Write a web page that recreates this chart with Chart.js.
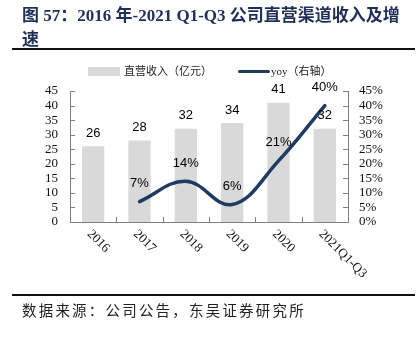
<!DOCTYPE html>
<html lang="zh">
<head>
<meta charset="UTF-8">
<title>直营渠道收入及增速</title>
<script src="https://cdn.jsdelivr.net/npm/chart.js"></script>
<style>
    body { margin: 0; width: 419px; height: 337px; position: relative; overflow: hidden; background: #fff; }
    #chart { position: absolute; left: 0; top: 0; }
    .title { position: absolute; left: 22px; top: 4px; font-family: "Liberation Serif", "Noto Sans CJK SC", serif;
             font-size: 17px; font-weight: bold; color: #1f2f57; line-height: 24px; white-space: nowrap; }
    .rule { position: absolute; left: 12px; width: 403px; height: 2px; background: #111; }
    .legend { position: absolute; top: 63px; font-size: 11px; color: #222; font-family: "Liberation Serif", "Noto Sans CJK SC", serif; line-height: 16px; }
    .box { position: absolute; left: 88px; top: 67px; width: 32px; height: 9px; background: #d9d9d9; }
    .ln { position: absolute; left: 238px; top: 70px; width: 32px; height: 3px; background: #1f3b61; border-radius: 2px; }
    .source { position: absolute; left: 22px; top: 299px; font-family: "Noto Sans CJK SC", sans-serif; font-size: 14.5px;
              color: #222; letter-spacing: 2.2px; white-space: nowrap; }
</style>
</head>
<body>
<canvas id="chart" width="419" height="337"></canvas>
<div class="title">图 57：2016 年-2021 Q1-Q3 公司直营渠道收入及增<br>速</div>
<div class="rule" style="top:48px"></div>
<div class="box"></div>
<div class="legend" style="left:124px">直营收入（亿元）</div>
<div class="ln"></div>
<div class="legend" style="left:271px">yoy（右轴）</div>
<div class="rule" style="top:294px"></div>
<div class="source">数据来源：公司公告，东吴证券研究所</div>
<script>
const categories = ['2016', '2017', '2018', '2019', '2020', '2021Q1-Q3'];
const revenue = [26, 28, 32, 34, 41, 32];          // 直营收入（亿元）
const yoy = [null, 7, 14, 6, 21, 40];              // yoy %（右轴）
const leftTicks = [0, 5, 10, 15, 20, 25, 30, 35, 40, 45];
const rightTicks = [0, 5, 10, 15, 20, 25, 30, 35, 40, 45];

const axisColor = '#7f7f7f';

// value labels, x labels turned clockwise, and tick marks that point inward
const extras = {
    id: 'extras',
    afterDatasetsDraw(chart) {
        const ctx = chart.ctx;
        const area = chart.chartArea;
        const x = chart.scales.x;
        const y = chart.scales.y;
        const y1 = chart.scales.y1;
        ctx.save();

        ctx.strokeStyle = axisColor;
        ctx.lineWidth = 1;
        ctx.beginPath();
        for (let i = 1; i < categories.length; i++) {
            let px = Math.round((x.getPixelForValue(i - 1) + x.getPixelForValue(i)) / 2) + 0.5;
            ctx.moveTo(px, area.bottom);
            ctx.lineTo(px, area.bottom - 5);
        }
        leftTicks.forEach(v => {
            let py = Math.round(y.getPixelForValue(v)) + 0.5;
            ctx.moveTo(area.left, py);
            ctx.lineTo(area.left + 5, py);
        });
        rightTicks.forEach(v => {
            let py = Math.round(y1.getPixelForValue(v)) + 0.5;
            ctx.moveTo(area.right, py);
            ctx.lineTo(area.right - 5, py);
        });
        ctx.stroke();

        ctx.fillStyle = '#000';
        ctx.font = '13px "Liberation Sans", Arial, sans-serif';
        ctx.textAlign = 'center';
        ctx.textBaseline = 'middle';
        let bars = chart.getDatasetMeta(1).data;
        bars.forEach((b, i) => ctx.fillText(revenue[i], b.x, b.y - 13));
        let pts = chart.getDatasetMeta(0).data;
        pts.forEach((p, i) => {
            if (yoy[i] === null) return;
            ctx.fillText(yoy[i] + '%', p.x, p.y - 18);
        });

        ctx.font = '13px "Liberation Serif", "Times New Roman", serif';
        ctx.textAlign = 'left';
        ctx.fillStyle = '#111';
        categories.forEach((c, i) => {
            ctx.save();
            ctx.translate(x.getPixelForValue(i) - 4, area.bottom + 10);
            ctx.rotate(Math.PI / 4);
            ctx.fillText(c, 0, 0);
            ctx.restore();
        });
        ctx.restore();
    }
};

new Chart(document.getElementById('chart'), {
    data: {
        labels: categories,
        datasets: [{
            type: 'line',
            label: 'yoy（右轴）',
            data: yoy,
            yAxisID: 'y1',
            borderColor: '#1f3b61',
            borderWidth: 3.5,
            tension: 0.4,
            pointRadius: 0,
            borderCapStyle: 'round',
            order: 0
        }, {
            type: 'bar',
            label: '直营收入（亿元）',
            data: revenue,
            yAxisID: 'y',
            backgroundColor: '#d9d9d9',
            categoryPercentage: 1,
            barPercentage: 0.48,
            order: 1
        }]
    },
    options: {
        responsive: false,
        animation: false,
        layout: { padding: { top: 91, bottom: 115, left: 0, right: 0 } },
        plugins: { legend: { display: false }, tooltip: { enabled: false } },
        scales: {
            x: {
                ticks: { display: false },
                grid: { display: false },
                border: { color: axisColor },
                afterFit(s) { s.height = 0; }
            },
            y: {
                position: 'left',
                min: 0, max: 45,
                afterBuildTicks(s) { s.ticks = leftTicks.map(v => ({ value: v })); },
                ticks: { autoSkip: false, padding: 12, color: '#111', font: { family: '"Liberation Serif", serif', size: 13 } },
                grid: { display: false, drawTicks: false },
                border: { color: axisColor },
                afterFit(s) { s.width = 70; }
            },
            y1: {
                position: 'right',
                min: 0, max: 45,
                afterBuildTicks(s) { s.ticks = rightTicks.map(v => ({ value: v })); },
                ticks: { autoSkip: false, padding: 11, color: '#111', font: { family: '"Liberation Serif", serif', size: 13 },
                         callback: v => v + '%' },
                grid: { display: false, drawTicks: false },
                border: { color: axisColor },
                afterFit(s) { s.width = 71; }
            }
        }
    },
    plugins: [extras]
});
</script>
</body>
</html>
